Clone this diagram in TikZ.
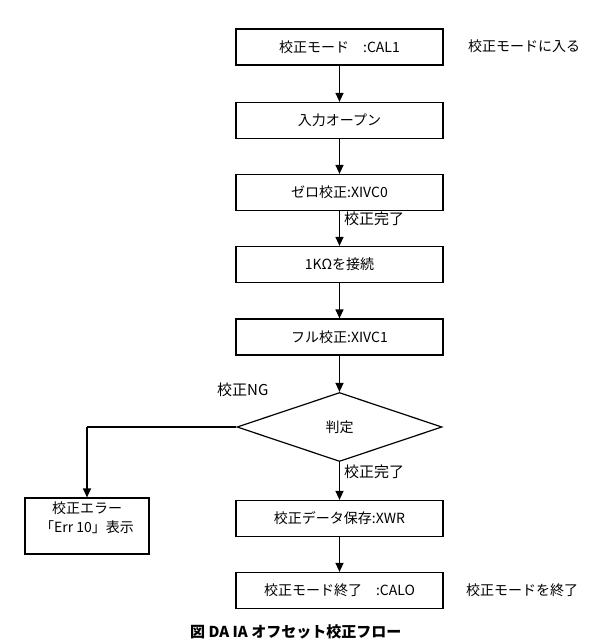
\documentclass[tikz,border=0pt]{standalone}
\usepackage{fontspec}
\setmainfont{Noto Sans CJK JP}
\usetikzlibrary{arrows.meta,shapes.geometric}
\tikzset{
  x=1pt,y=-1pt,
  proc/.style={draw,line width=1.2pt,minimum width=207pt,minimum height=36pt,inner sep=0pt,font=\fontsize{14}{16}\selectfont},
  lbl/.style={inner sep=0pt,font=\fontsize{14}{16}\selectfont},
  biglbl/.style={inner sep=0pt,font=\fontsize{15}{17}\selectfont},
  flow/.style={line width=1.2pt,-{Triangle[length=9pt,width=8pt]}},
  plain/.style={line width=1.2pt}
}
\begin{document}
\begin{tikzpicture}
\useasboundingbox (0,0) rectangle (602,643);
\node[proc] (b1) at (339.5,47) {校正モード　:CAL1};
\node[proc] (b2) at (339.5,120.5) {入力オープン};
\node[proc] (b3) at (339.5,192.5) {ゼロ校正:XIVC0};
\node[proc] (b4) at (339.5,264.5) {1KΩを接続};
\node[proc] (b5) at (339.5,337) {フル校正:XIVC1};
\node[draw,line width=1.2pt,diamond,aspect=3,minimum width=205pt,minimum height=69pt,inner sep=0pt,font=\fontsize{14}{16}\selectfont] (d) at (339.5,427) {判定};
\node[proc] (b7) at (339.5,518.5) {校正データ保存:XWR};
\node[proc] (b8) at (339.5,590.5) {校正モード終了　:CALO};
\node[draw,line width=1.2pt,minimum width=124pt,minimum height=56pt,inner sep=0pt] (err) at (87,526) {};
\node[lbl,align=center,font=\fontsize{14}{19}\selectfont] (errt) at (87,518) {校正エラー\\「Err 10」表示};
\node[lbl,anchor=west] (r1) at (468,46) {校正モードに入る};
\node[lbl,anchor=west] (r8) at (466,590) {校正モードを終了};
\node[biglbl,anchor=west] (ok1) at (344,219) {校正完了};
\node[biglbl,anchor=west] (ok2) at (344,472) {校正完了};
\node[biglbl,anchor=west] (ng) at (217,390) {校正NG};
\node[lbl,anchor=west,font=\bfseries\fontsize{15}{16}\selectfont] (cap) at (190,632) {図 DA IA オフセット校正フロー};
\coordinate (c1) at (87,427);
\draw[flow] (b1) -- (b2);
\draw[flow] (b2) -- (b3);
\draw[flow] (b3) -- (b4);
\draw[flow] (b4) -- (b5);
\draw[flow] (b5) -- (d.north);
\draw[flow] (d.south) -- (b7);
\draw[flow] (b7) -- (b8);
\draw[plain] (d.west) -- (c1);
\draw[flow] (c1) -- (err.north);
\end{tikzpicture}
\end{document}
